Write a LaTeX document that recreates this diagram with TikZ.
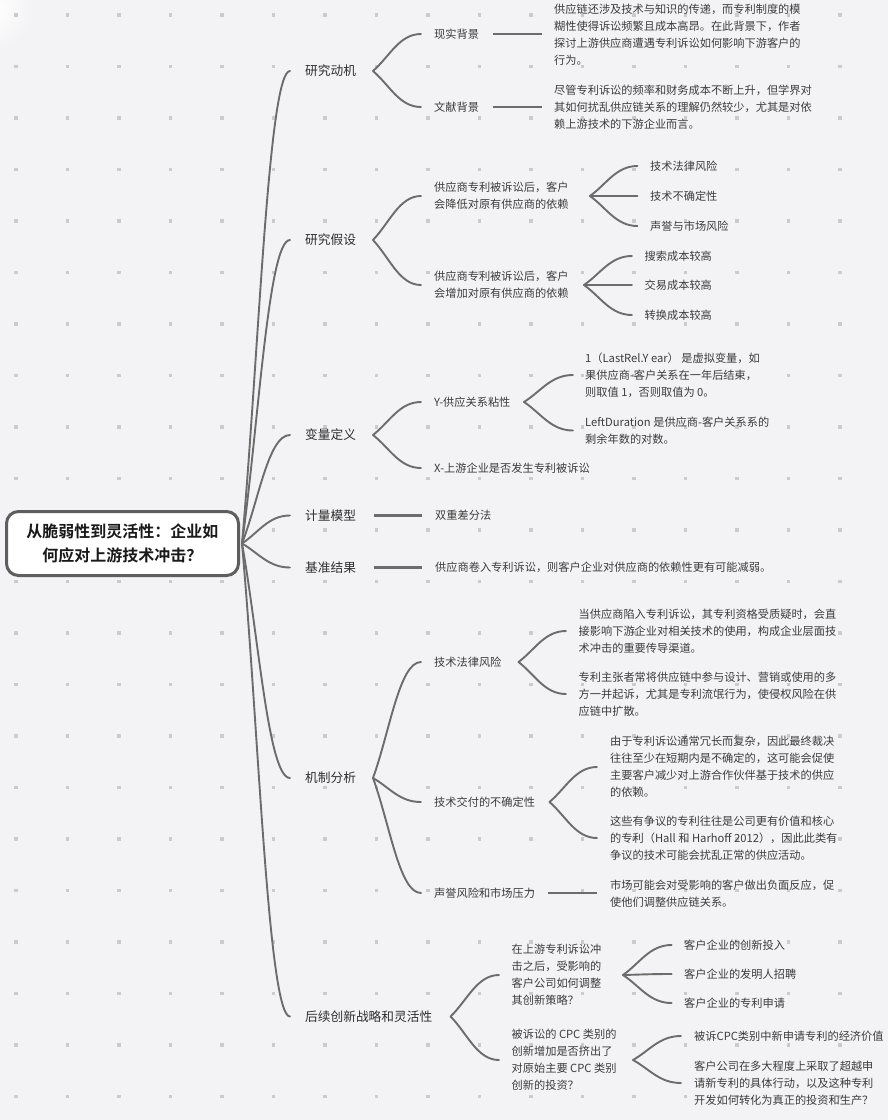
\documentclass[tikz,border=0pt]{standalone}
\usepackage{fontspec}
\setmainfont{Noto Sans CJK SC}[BoldFont={Noto Sans CJK SC Bold}]
\usetikzlibrary{calc}
\definecolor{bg}{HTML}{F3F3F5}
\definecolor{dotc}{HTML}{CBCBCE}
\definecolor{ln}{HTML}{6C6C6C}
\definecolor{tx}{HTML}{3C3C3C}
\definecolor{txa}{HTML}{2F2F2F}
\definecolor{rootc}{HTML}{5E5E5E}
\begin{document}
\begin{tikzpicture}[x=1pt,y=-1pt,
  lvla/.style={anchor=west, inner sep=0pt, font=\fontsize{12.7}{16}\selectfont, text=txa},
  lvlb/.style={anchor=west, inner sep=0pt, font=\fontsize{11.2}{17}\selectfont, text=tx, align=left},
  rootbox/.style={draw=rootc, line width=3pt, fill=white, rounded corners=12pt,
    minimum width=232pt, minimum height=64pt, inner sep=0pt, align=center,
    font=\bfseries\fontsize{16}{24.5}\selectfont, text=black!90},
  br/.style={to path={let \p1=(\tikztostart), \p2=(\tikztotarget) in
    .. controls ({\x1+0.35*(\x2-\x1)},{\y1+0.4*(\y2-\y1)}) and ({\x1+0.55*(\x2-\x1)},{\y2}) .. (\x2,\y2)}},
  cv/.style={draw=ln, line width=1.9pt, line cap=round},
  st/.style={draw=ln, line width=2.6pt}
]
\fill[bg] (0,0) rectangle (888,1120);
\useasboundingbox (0,0) rectangle (888,1120);
\shade[inner color=white, outer color=bg] (-8,8) circle (42);
\foreach \i in {0,...,16}{
  \foreach \j in {0,...,21}{
    \fill[dotc] ({16+51.5*\i-1.6},{15+51.5*\j-1.6}) rectangle ++(3.2,3.2);
  }
}
% root
\node[rootbox] (root) at (122.5,543.5) {从脆弱性到灵活性：企业如\\何应对上游技术冲击？};
% level 1
\node[lvla] (m1) at (305,71) {研究动机};
\node[lvla] (m2) at (305,240) {研究假设};
\node[lvla] (m3) at (305,435) {变量定义};
\node[lvla] (m4) at (305,515.5) {计量模型};
\node[lvla] (m5) at (305,567.5) {基准结果};
\node[lvla] (m6) at (305,778) {机制分析};
\node[lvla] (m7) at (305,1016.5) {后续创新战略和灵活性};
\foreach \m in {m1,m2,m3,m4,m5,m6,m7}{
  \draw[cv] ([xshift=2pt]root.east) to[br] ([xshift=-15pt]\m.west);
}
% m1 children
\node[lvlb] (c11) at (434,34) {现实背景};
\node[lvlb] (c12) at (434,107) {文献背景};
\node[lvlb] (p11) at (554,34.5) {供应链还涉及技术与知识的传递，而专利制度的模\\糊性使得诉讼频繁且成本高昂。在此背景下，作者\\探讨上游供应商遭遇专利诉讼如何影响下游客户的\\行为。};
\node[lvlb] (p12) at (554,107) {尽管专利诉讼的频率和财务成本不断上升，但学界对\\其如何扰乱供应链关系的理解仍然较少，尤其是对依\\赖上游技术的下游企业而言。};
\draw[cv] ([xshift=68pt]m1.west) to[br] ([xshift=-13pt]c11.west);
\draw[cv] ([xshift=68pt]m1.west) to[br] ([xshift=-13pt]c12.west);
\draw[st] ([xshift=58.5pt]c11.west) -- ([xshift=-12.3pt]c11.west -| p11.west);
\draw[st] ([xshift=58.5pt]c12.west) -- ([xshift=-12.3pt]c12.west -| p12.west);
% m2 children
\node[lvlb] (c21) at (434,196) {供应商专利被诉讼后，客户\\会降低对原有供应商的依赖};
\node[lvlb] (c22) at (434,285) {供应商专利被诉讼后，客户\\会增加对原有供应商的依赖};
\draw[cv] ([xshift=68pt]m2.west) to[br] ([xshift=-13pt]c21.west);
\draw[cv] ([xshift=68pt]m2.west) to[br] ([xshift=-13pt]c22.west);
\node[lvlb] (d211) at (650,166) {技术法律风险};
\node[lvlb] (d212) at (650,196) {技术不确定性};
\node[lvlb] (d213) at (650,226) {声誉与市场风险};
\node[lvlb] (d221) at (644.5,256) {搜索成本较高};
\node[lvlb] (d222) at (644.5,285) {交易成本较高};
\node[lvlb] (d223) at (644.5,315) {转换成本较高};
\foreach \d in {d211,d212,d213}{
  \draw[cv] ([xshift=156pt]c21.west) to[br] ([xshift=-12.5pt]\d.west);
}
\foreach \d in {d221,d222,d223}{
  \draw[cv] ([xshift=150pt]c22.west) to[br] ([xshift=-12.5pt]\d.west);
}
% m3 children
\node[lvlb] (c31) at (434,402) {Y-供应关系粘性};
\node[lvlb] (c32) at (434,468) {X-上游企业是否发生专利被诉讼};
\draw[cv] ([xshift=68pt]m3.west) to[br] ([xshift=-13pt]c31.west);
\draw[cv] ([xshift=68pt]m3.west) to[br] ([xshift=-13pt]c32.west);
\node[lvlb] (p311) at (585,375) {1（LastRel.Y ear） 是虚拟变量，如\\果供应商-客户关系在一年后结束，\\则取值 1，否则取值为 0。};
\node[lvlb] (p312) at (585,430.5) {LeftDuration 是供应商-客户关系系的\\剩余年数的对数。};
\draw[cv] ([xshift=90pt]c31.west) to[br] ([xshift=-12pt]p311.west);
\draw[cv] ([xshift=90pt]c31.west) to[br] ([xshift=-12pt]p312.west);
% m4, m5
\node[lvlb] (c41) at (435,515.5) {双重差分法};
\node[lvlb] (c51) at (435,567.5) {供应商卷入专利诉讼，则客户企业对供应商的依赖性更有可能减弱。};
\draw[st] ([xshift=69pt]m4.west) -- ([xshift=-13pt]c41.west);
\draw[st] ([xshift=69pt]m5.west) -- ([xshift=-13pt]c51.west);
% m6 children
\node[lvlb] (c61) at (434,662) {技术法律风险};
\node[lvlb] (c62) at (434,802) {技术交付的不确定性};
\node[lvlb] (c63) at (434,893) {声誉风险和市场压力};
\draw[cv] ([xshift=68pt]m6.west) to[br] ([xshift=-13pt]c61.west);
\draw[cv] ([xshift=68pt]m6.west) to[br] ([xshift=-13pt]c62.west);
\draw[cv] ([xshift=68pt]m6.west) to[br] ([xshift=-13pt]c63.west);
\node[lvlb] (p611) at (578.5,631) {当供应商陷入专利诉讼，其专利资格受质疑时，会直\\接影响下游企业对相关技术的使用，构成企业层面技\\术冲击的重要传导渠道。};
\node[lvlb] (p612) at (578.5,694) {专利主张者常将供应链中参与设计、营销或使用的多\\方一并起诉，尤其是专利流氓行为，使侵权风险在供\\应链中扩散。};
\draw[cv] ([xshift=84.5pt]c61.west) to[br] ([xshift=-12.5pt]p611.west);
\draw[cv] ([xshift=84.5pt]c61.west) to[br] ([xshift=-12.5pt]p612.west);
\node[lvlb] (p621) at (610,767) {由于专利诉讼通常冗长而复杂，因此最终裁决\\往往至少在短期内是不确定的，这可能会促使\\主要客户减少对上游合作伙伴基于技术的供应\\的依赖。};
\node[lvlb] (p622) at (610,838) {这些有争议的专利往往是公司更有价值和核心\\的专利（Hall 和 Harhoff 2012），因此此类有\\争议的技术可能会扰乱正常的供应活动。};
\draw[cv] ([xshift=115.5pt]c62.west) to[br] ([xshift=-13pt]p621.west);
\draw[cv] ([xshift=115.5pt]c62.west) to[br] ([xshift=-13pt]p622.west);
\node[lvlb] (p63) at (610,893.5) {市场可能会对受影响的客户做出负面反应，促\\使他们调整供应链关系。};
\draw[st] ([xshift=114pt]c63.west) -- ([xshift=-13pt]c63.west -| p63.west);
% m7 children
\node[lvlb] (q1) at (511.5,975) {在上游专利诉讼冲\\击之后，受影响的\\客户公司如何调整\\其创新策略？};
\node[lvlb] (q2) at (511.5,1060) {被诉讼的 CPC 类别的\\创新增加是否挤出了\\对原始主要 CPC 类别\\创新的投资？};
\draw[cv] ([xshift=145.6pt]m7.west) to[br] ([xshift=-12.5pt]q1.west);
\draw[cv] ([xshift=145.6pt]m7.west) to[br] ([xshift=-12.5pt]q2.west);
\node[lvlb] (e11) at (684,945) {客户企业的创新投入};
\node[lvlb] (e12) at (684,974) {客户企业的发明人招聘};
\node[lvlb] (e13) at (684,1003) {客户企业的专利申请};
\foreach \e in {e11,e12,e13}{
  \draw[cv] ([xshift=111.5pt]q1.west) to[br] ([xshift=-12.4pt]\e.west);
}
\node[lvlb] (e21) at (694,1036) {被诉CPC类别中新申请专利的经济价值};
\node[lvlb] (e22) at (694,1083) {客户公司在多大程度上采取了超越申\\请新专利的具体行动，以及这种专利\\开发如何转化为真正的投资和生产？};
\draw[cv] ([xshift=121.5pt]q2.west) to[br] ([xshift=-13pt]e21.west);
\draw[cv] ([xshift=121.5pt]q2.west) to[br] ([xshift=-13pt]e22.west);
\end{tikzpicture}
\end{document}
